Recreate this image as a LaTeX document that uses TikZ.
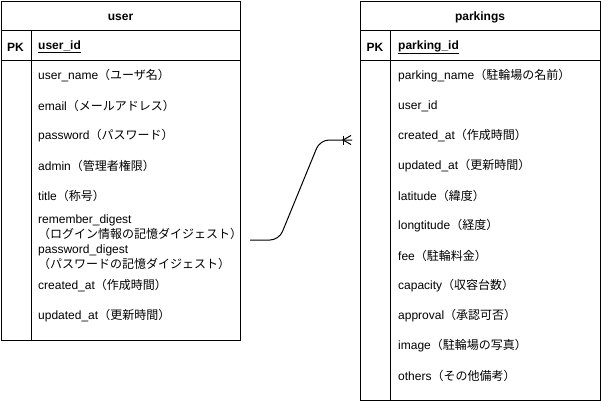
\documentclass[tikz,border=0pt]{standalone}
\usepackage{fontspec}
\setmainfont{Liberation Sans}
\newfontfamily\jp{Noto Sans CJK JP}
\newcommand\jpt[1]{{\jp #1}}
\begin{document}
\begin{tikzpicture}[x=1pt,y=-1pt,
  font=\fontsize{12}{14.5}\selectfont,
  tbl/.style={draw, line width=1pt, inner sep=0pt, anchor=north west},
  hdr/.style={font=\fontsize{12}{14.5}\selectfont\bfseries, inner sep=0pt},
  fld/.style={anchor=west, inner sep=0pt, align=left},
  sepline/.style={line width=1pt},
  conn/.style={line width=1pt, rounded corners=9pt}]
\useasboundingbox (0,0) rectangle (601,401);

% ---------- user table ----------
\node[tbl, minimum width=239pt, minimum height=339pt] (user) at (1,1) {};
\draw[sepline] (user.north west) ++(0,30) coordinate (uh1) -- ++(239,0);
\draw[sepline] (user.north west) ++(0,60) coordinate (uh2) -- ++(239,0);
\draw[sepline] (user.north west) ++(30,30) coordinate (uv1) -- ++(0,309);
\node[hdr] (userT) at (120.5,17) {user};
\node[hdr] (userPK) at (15.5,47) {PK};
\node[hdr, anchor=west] (userId) at (38,47) {\underline{user\_id}};
\node[fld] (u1) at (38,76) {user\_name\jpt{（ユーザ名）}};
\node[fld] (u2) at (38,106) {email\jpt{（メールアドレス）}};
\node[fld] (u3) at (38,136) {password\jpt{（パスワード）}};
\node[fld] (u4) at (38,166) {admin\jpt{（管理者権限）}};
\node[fld] (u5) at (38,196) {title\jpt{（称号）}};
\node[fld] (u6) at (38,227) {remember\_digest\\\jpt{（ログイン情報の記憶ダイジェスト）}};
\node[fld] (u7) at (38,257) {password\_digest\\\jpt{（パスワードの記憶ダイジェスト）}};
\node[fld] (u8) at (38,286) {created\_at\jpt{（作成時間）}};
\node[fld] (u9) at (38,316) {updated\_at\jpt{（更新時間）}};

% ---------- parkings table ----------
\node[tbl, minimum width=240pt, minimum height=399pt] (park) at (360,1) {};
\draw[sepline] (park.north west) ++(0,30) coordinate (ph1) -- ++(240,0);
\draw[sepline] (park.north west) ++(0,60) coordinate (ph2) -- ++(240,0);
\draw[sepline] (park.north west) ++(30,30) coordinate (pv1) -- ++(0,369);
\node[hdr] (parkT) at (480,17) {parkings};
\node[hdr] (parkPK) at (375,47) {PK};
\node[hdr, anchor=west] (parkId) at (398,47) {\underline{parking\_id}};
\node[fld] (p1) at (398,76) {parking\_name\jpt{（駐輪場の名前）}};
\node[fld] (p2) at (398,106) {user\_id};
\node[fld] (p3) at (398,136) {created\_at\jpt{（作成時間）}};
\node[fld] (p4) at (398,166) {updated\_at\jpt{（更新時間）}};
\node[fld] (p5) at (398,196) {latitude\jpt{（緯度）}};
\node[fld] (p6) at (398,226) {longtitude\jpt{（経度）}};
\node[fld] (p7) at (398,256) {fee\jpt{（駐輪料金）}};
\node[fld] (p8) at (398,286) {capacity\jpt{（収容台数）}};
\node[fld] (p9) at (398,316) {approval\jpt{（承認可否）}};
\node[fld] (p10) at (398,346) {image\jpt{（駐輪場の写真）}};
\node[fld] (p11) at (398,376) {others\jpt{（その他備考）}};

% ---------- relation ----------
\coordinate (cs) at (250,240);
\coordinate (ce) at (352,140);
\coordinate (cf) at (343,140);
\draw[conn] (cs) -- (279,240) -- (320,140) -- (ce);
\draw[line width=1pt] (cf) ++(0,-4.5) -- ++(0,9);
\draw[line width=1pt] (cf) ++(8,-4.5) -- (cf) -- ++(8,4.5);
\end{tikzpicture}
\end{document}
